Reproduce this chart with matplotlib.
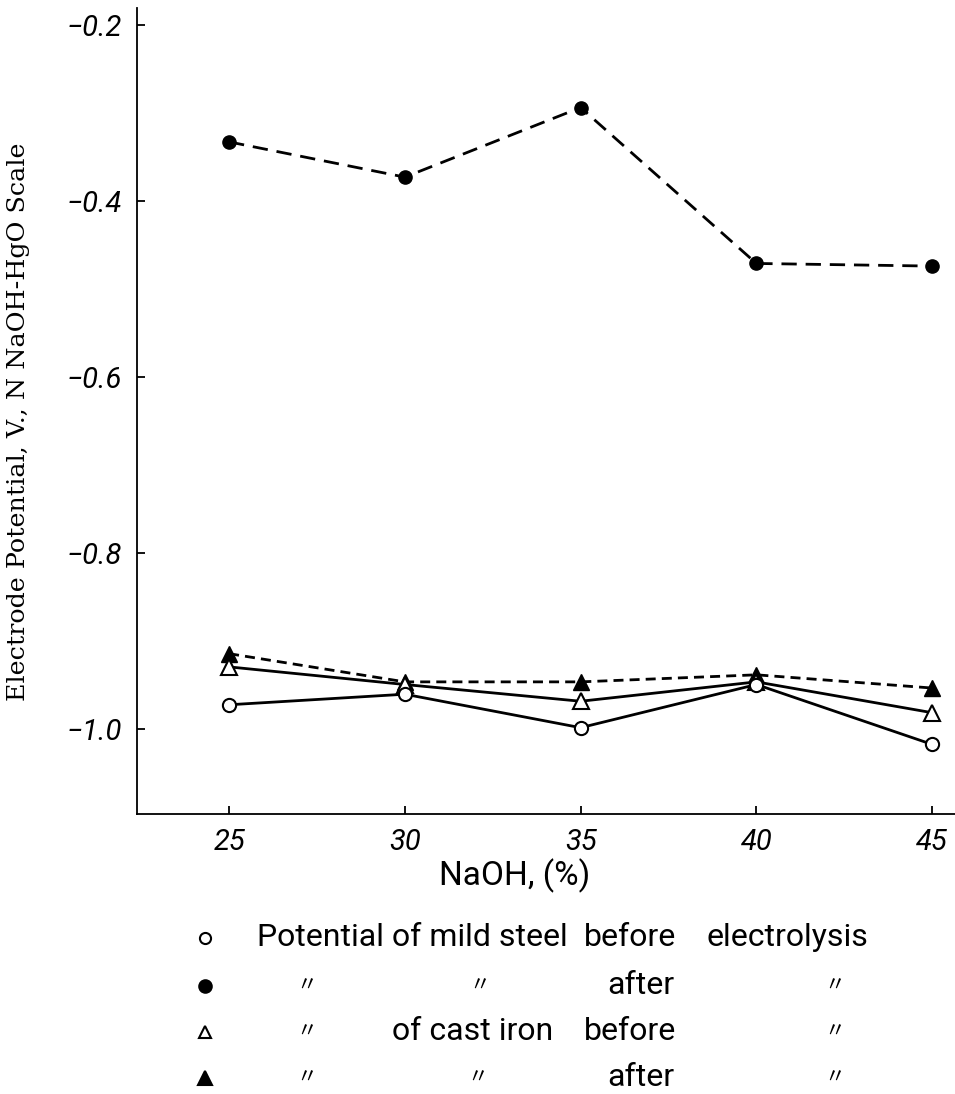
import numpy as np
import matplotlib
matplotlib.use("Agg")
import matplotlib.pyplot as plt
from matplotlib.lines import Line2D

# data
naoh = [25, 30, 35, 40, 45]
steel_before = [-0.972, -0.960, -0.998, -0.949, -1.017]
steel_after = [-0.333, -0.373, -0.294, -0.471, -0.474]
iron_before = [-0.929, -0.949, -0.968, -0.946, -0.981]
iron_after = [-0.914, -0.946, -0.946, -0.938, -0.953]

yticks = [-0.2, -0.4, -0.6, -0.8, -1.0]
ytick_labels = ["\u22120.2", "\u22120.4", "\u22120.6", "\u22120.8", "\u22121.0"]

W, H = 955, 1094
hand = ["Roboto", "DejaVu Sans"]

fig = plt.figure(figsize=(W / 100, H / 100), dpi=100)
ax = fig.add_axes([137 / W, 1 - 814 / H, 1 - 137 / W, (814 - 8) / H])

ax.plot(naoh, steel_after, color="black", lw=2.0, ls=(0, (5.5, 3.2)),
        marker="o", ms=9.5, mfc="black", mec="black", zorder=3)
ax.plot(naoh, iron_after, color="black", lw=2.0, ls=(0, (3.6, 2.2)),
        marker="^", ms=11, mfc="black", mec="black", zorder=4)
ax.plot(naoh, iron_before, color="black", lw=2.0, ls="-",
        marker="^", ms=11, mfc="white", mec="black", mew=1.5, zorder=4)
ax.plot(naoh, steel_before, color="black", lw=2.0, ls="-",
        marker="o", ms=9.5, mfc="white", mec="black", mew=1.5, zorder=5)

ax.set_xlim(22.38, 45.65)
ax.set_ylim(-1.096, -0.181)
ax.set_xticks(naoh)
ax.set_xticklabels([str(v) for v in naoh])
ax.set_yticks(yticks)
ax.set_yticklabels(ytick_labels)

for s in ["top", "right"]:
    ax.spines[s].set_visible(False)
for s in ["left", "bottom"]:
    ax.spines[s].set_linewidth(1.3)

ax.tick_params(axis="both", direction="in", length=6, width=1.3, colors="black")
ax.tick_params(axis="x", pad=10)
ax.tick_params(axis="y", pad=11)
for lab in ax.get_xticklabels() + ax.get_yticklabels():
    lab.set_family(hand)
    lab.set_style("italic")
    lab.set_fontsize(21)

ax.set_xlabel("NaOH, (%)", family=hand, fontsize=24)
ax.xaxis.set_label_coords((515 - 137) / 818, (814 - 858) / 806)
ax.set_ylabel("Electrode Potential, V., N NaOH-HgO Scale",
              family="DejaVu Serif", fontsize=18.3)
ax.yaxis.set_label_coords((30 - 137) / 818, (814 - 422) / 806)


# legend drawn as a small table under the chart
def fx(px):
    return px / W


def fy(py):
    return 1 - py / H


rows_y = [938, 986, 1032, 1078]
markers = [("o", "white", 8), ("o", "black", 9), ("^", "white", 9), ("^", "black", 10)]
for (m, fc, ms), y in zip(markers, rows_y):
    fig.add_artist(Line2D([fx(205)], [fy(y)], marker=m, ms=ms, mfc=fc,
                          mec="black", mew=1.5, ls="none"))

ditto = "\u3003"
dfam = ["Noto Sans CJK JP", "DejaVu Sans"]
legend_text = [
    (257, 0, "Potential of mild steel"),
    (584, 0, "before"),
    (706, 0, "electrolysis"),
    (607, 1, "after"),
    (392, 2, "of cast iron"),
    (584, 2, "before"),
    (607, 3, "after"),
]
for x, r, t in legend_text:
    fig.text(fx(x), fy(rows_y[r]), t, family=hand, fontsize=23,
             ha="left", va="center")

ditto_pos = [(307, 1), (480, 1), (835, 1), (307, 2), (835, 2),
             (307, 3), (478, 3), (835, 3)]
for x, r in ditto_pos:
    fig.text(fx(x), fy(rows_y[r]), ditto, family=dfam, fontsize=15,
             ha="center", va="center")

fig.savefig("out.png", dpi=100, facecolor="white")
